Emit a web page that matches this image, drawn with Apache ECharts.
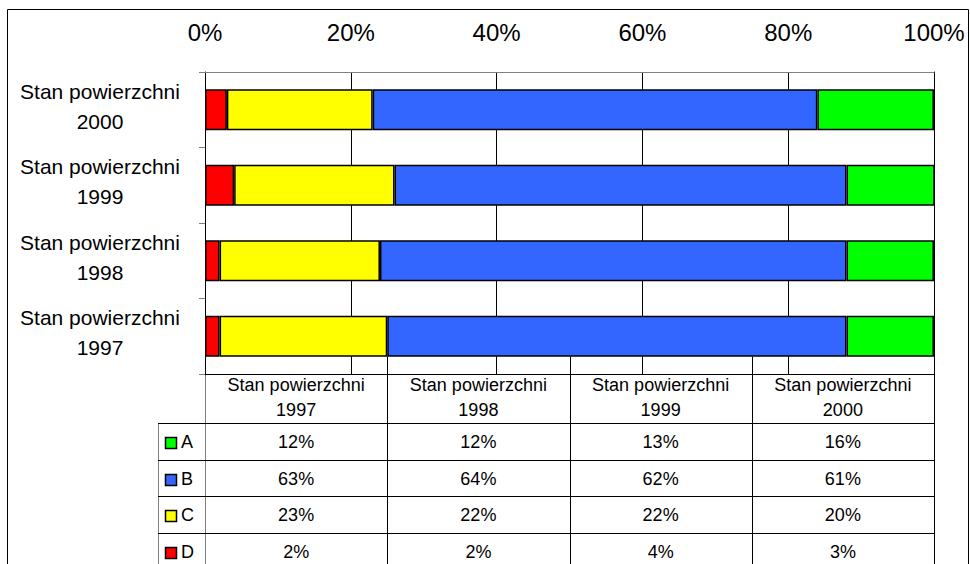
<!DOCTYPE html>
<html>
<head>
<meta charset="utf-8">
<script src="https://cdn.jsdelivr.net/npm/echarts@6/dist/echarts.min.js"></script>
<style>
  html, body { margin: 0; padding: 0; background: #fff; }
  #chart { width: 970px; height: 564px; }
</style>
</head>
<body>
<div id="chart"></div>
<script>
// Categories (bottom to top on the bar axis, left to right in the table)
const categories = ['Stan powierzchni 1997', 'Stan powierzchni 1998', 'Stan powierzchni 1999', 'Stan powierzchni 2000'];

// Series, in table order (top to bottom)
const seriesNames = ['A', 'B', 'C', 'D'];
const valuesA = [12, 12, 13, 16];
const valuesB = [63, 64, 62, 61];
const valuesC = [23, 22, 22, 20];
const valuesD = [2, 2, 4, 3];

// Percent axis tick labels
const percentTicks = [0, 20, 40, 60, 80, 100];

const seriesValues = [valuesA, valuesB, valuesC, valuesD];
const seriesColors = ['#00FF00', '#3366FF', '#FFFF00', '#FF0000'];
const FONT = 'Arial, "Liberation Sans", sans-serif';

// Plot area and data-table geometry
const plot = { left: 205, top: 72, right: 934, bottom: 374 };
const plotW = plot.right - plot.left;
const plotH = plot.bottom - plot.top;
const barRatio = 0.54;
const colW = plotW / categories.length;
const headerBottom = 423;
const rowH = 36.5;
const legendLeft = 158;
const pageBottom = 600;

const twoLine = s => s.replace(/ (\S+)$/, '\n$1');
const crisp = v => Math.round(v) + 0.5;

const graphics = [];

// outer frame
graphics.push({
  type: 'rect', silent: true,
  shape: { x: 7.5, y: 9.5, width: 961, height: pageBottom },
  style: { fill: 'none', stroke: '#000', lineWidth: 1 }
});

function hline(x1, x2, y, color) {
  graphics.push({ type: 'line', silent: true,
    shape: { x1: x1, y1: crisp(y), x2: x2, y2: crisp(y) },
    style: { stroke: color, lineWidth: 1 } });
}
function vline(x, y1, y2, color) {
  graphics.push({ type: 'line', silent: true,
    shape: { x1: crisp(x), y1: y1, x2: crisp(x), y2: y2 },
    style: { stroke: color, lineWidth: 1 } });
}
function text(str, x, y, size, align) {
  graphics.push({ type: 'text', silent: true, x: x, y: y,
    style: { text: str, fill: '#000', fontSize: size, fontFamily: FONT,
      align: align, textAlign: align, verticalAlign: 'middle', textVerticalAlign: 'middle',
      lineHeight: 25 } });
}

// table rules
const barBottom = plot.bottom - (plotH / categories.length) * (1 - barRatio) / 2;
vline(legendLeft, headerBottom, pageBottom, '#808080');
vline(plot.left, plot.bottom, pageBottom, '#808080');
for (let c = 1; c < categories.length; c++) {
  vline(plot.left + c * colW, barBottom, pageBottom, '#000');
}
vline(plot.right, plot.bottom, pageBottom, '#000');
for (let r = 0; r < seriesNames.length; r++) {
  hline(legendLeft, plot.right, headerBottom + r * rowH, '#000');
}

// header cells
categories.forEach((c, i) => {
  text(twoLine(c), plot.left + (i + 0.5) * colW, (plot.bottom + headerBottom) / 2 - 1, 18, 'center');
});

// legend keys and values
seriesNames.forEach((name, r) => {
  const cy = headerBottom + (r + 0.5) * rowH + 1;
  graphics.push({ type: 'rect', silent: true,
    shape: { x: 165.5, y: Math.round(cy - 5) + 0.5, width: 11, height: 11 },
    style: { fill: seriesColors[r], stroke: '#000', lineWidth: 1.5 } });
  text(name, 181, cy, 18, 'left');
  seriesValues[r].forEach((v, i) => {
    text(Math.round(v) + '%', plot.left + (i + 0.5) * colW, cy, 18, 'center');
  });
});

// bars stack from D outward to A
const stackOrder = [3, 2, 1, 0];
const series = stackOrder.map(i => ({
  name: seriesNames[i],
  type: 'bar',
  stack: 'total',
  data: seriesValues[i],
  barWidth: (barRatio * 100) + '%',
  itemStyle: { color: seriesColors[i], borderColor: '#000', borderWidth: 1.5 },
  silent: true
}));

// category label: two text lines plus a short spacer line that lifts the block a little
const categoryLabel = v => v.split('\n').map(s => '{t|' + s + '}').join('\n') + '\n{s| }';

const chart = echarts.init(document.getElementById('chart'), null, { renderer: 'svg' });
chart.setOption({
  animation: false,
  backgroundColor: '#fff',
  textStyle: { fontFamily: FONT },
  grid: { left: plot.left, top: plot.top, width: plotW, height: plotH, containLabel: false },
  xAxis: [{
    type: 'value',
    position: 'top',
    min: percentTicks[0],
    max: percentTicks[percentTicks.length - 1],
    interval: percentTicks[1] - percentTicks[0],
    axisLine: { show: true, onZero: false, lineStyle: { color: '#808080', width: 1 } },
    axisTick: { show: false },
    splitLine: { show: true, lineStyle: { color: '#000', width: 1 } },
    axisLabel: { formatter: '{value}%', fontSize: 24, margin: 28, color: '#000', fontFamily: FONT }
  }, {
    type: 'value',
    position: 'bottom',
    min: percentTicks[0],
    max: percentTicks[percentTicks.length - 1],
    axisLine: { show: true, onZero: false, lineStyle: { color: '#000', width: 1 } },
    axisTick: { show: false },
    axisLabel: { show: false },
    splitLine: { show: false }
  }],
  yAxis: [{
    type: 'category',
    data: categories.map(twoLine),
    axisLine: { show: true, onZero: false, lineStyle: { color: '#000', width: 1 } },
    axisTick: { show: true, length: 6, lineStyle: { color: '#808080' } },
    splitLine: { show: false },
    axisLabel: {
      align: 'center', margin: 105, formatter: categoryLabel,
      rich: {
        t: { fontSize: 21, lineHeight: 30, color: '#000', fontFamily: FONT, align: 'center' },
        s: { fontSize: 1, lineHeight: 7 }
      }
    }
  }, {
    type: 'category',
    position: 'right',
    data: categories.map(twoLine),
    axisLine: { show: true, onZero: false, lineStyle: { color: '#000', width: 1 } },
    axisTick: { show: false },
    axisLabel: { show: false },
    splitLine: { show: false }
  }],
  series: series,
  graphic: { elements: graphics }
});
</script>
</body>
</html>
